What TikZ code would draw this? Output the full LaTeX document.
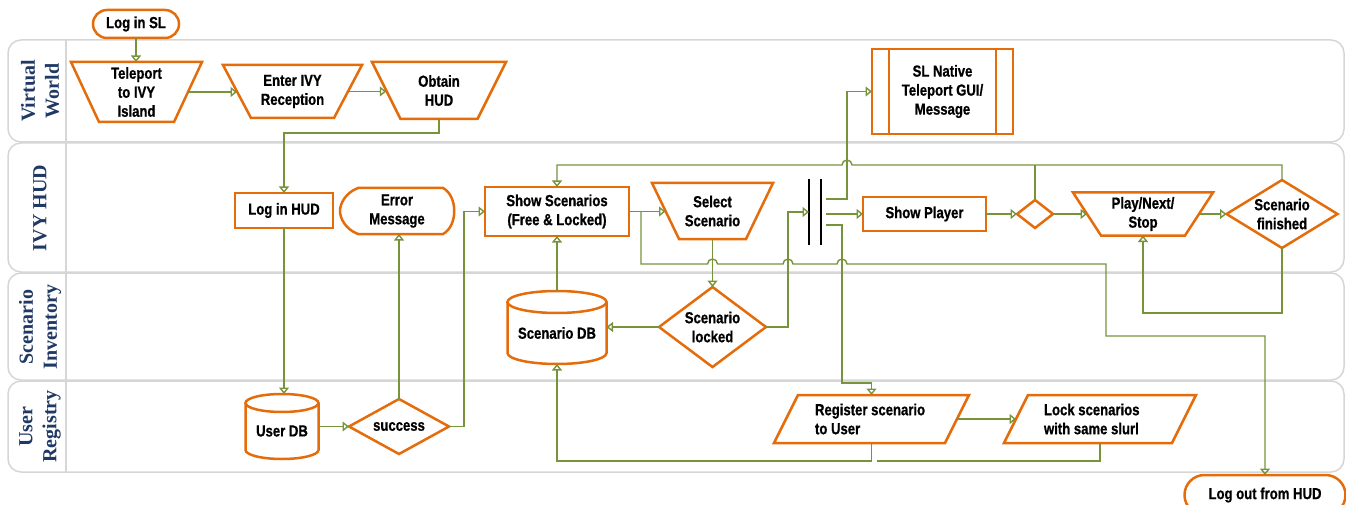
\documentclass[tikz,border=0pt]{standalone}
\usepackage{fontspec}
\setmainfont{Liberation Sans}[FakeStretch=0.82, FakeBold=0.8]
\newfontfamily\lanefont{Liberation Serif}
\usetikzlibrary{arrows.meta,calc}
\definecolor{ora}{HTML}{E46C0A}
\definecolor{grn}{HTML}{77933C}
\definecolor{lanegray}{HTML}{D6D6D6}
\definecolor{navy}{HTML}{1F3864}
\tikzset{
  txt/.style={font=\bfseries\fontsize{16}{19}\selectfont, align=center, inner sep=0pt, outer sep=0pt},
  ob/.style={draw=ora, line width=2.5pt, line join=miter},
  obox/.style={txt, ob},
  conn/.style={draw=grn, line width=1.4pt},
  flow/.style={conn, -{Triangle[open, length=6.5pt, width=10pt]}},
  lane/.style={draw=lanegray, line width=1.5pt, rounded corners=13pt},
  lanelabel/.style={font=\lanefont\bfseries\fontsize{20}{24}\selectfont, text=navy, rotate=90, align=center, inner sep=0pt},
  forkbar/.style={draw=black, line width=1.3pt},
}
% name, cx, cy, half top, half bottom, half height, mid width, height, text
\newcommand{\mantrap}[9]{%
  \node[txt, minimum width=#7pt, minimum height=#8pt] (#1) at (#2,#3) {#9};
  \draw[ob] (#2-#4,#3-#6) -- (#2+#4,#3-#6) -- (#2+#5,#3+#6) -- (#2-#5,#3+#6) -- cycle;}
% name, cx, cy, w, h, text
\newcommand{\decis}[6]{%
  \node[txt, minimum width=#4pt, minimum height=#5pt] (#1) at (#2,#3) {#6};
  \draw[ob] (#1.north) -- (#1.east) -- (#1.south) -- (#1.west) -- cycle;}
% name, cx, cy, w, h, half w, ry, text
\newcommand{\dbnode}[8]{%
  \node[minimum width=#4pt, minimum height=#5pt, inner sep=0pt, outer sep=0pt] (#1) at (#2,#3) {};
  \draw[ob] (#2-#6,#3-#5/2+#7) -- (#2-#6,#3+#5/2-#7)
     arc[start angle=180, end angle=360, x radius=#6pt, y radius=#7pt]
     -- (#2+#6,#3-#5/2+#7);
  \draw[ob] (#2,#3-#5/2+#7) ellipse[x radius=#6pt, y radius=#7pt];
  \node[txt] at ($(#1.center)+(0,#7/2)$) {#8};}
% name, cx, cy, half mid width, slant half, half height, mid width, indent, text
\newcommand{\iobox}[9]{%
  \node[minimum width=#7pt, minimum height={2*#6pt}, inner sep=0pt, outer sep=0pt] (#1) at (#2,#3) {};
  \draw[ob] (#2-#4+#5,#3-#6) -- (#2+#4+#5,#3-#6) -- (#2+#4-#5,#3+#6) -- (#2-#4-#5,#3+#6) -- cycle;
  \node[txt, align=left, anchor=west] at ($(#1.west)+(#8,0)$) {#9};}

\begin{document}
\begin{tikzpicture}[x=1pt, y=-1pt]
\useasboundingbox (0,0) rectangle (1346,505);

% swimlanes
\draw[lane] (8,40) rectangle (1344,142);
\draw[lane] (8,143) rectangle (1344,272);
\draw[lane] (8,273) rectangle (1344,380);
\draw[lane] (8,381) rectangle (1344,472);
\draw[lane, rounded corners=0pt] (66,40) -- (66,472);
\node[lanelabel] (lvw) at (40,91) {Virtual\\World};
\node[lanelabel] (lhud) at (40,208) {IVY HUD};
\node[lanelabel] (linv) at (40,327) {Scenario\\Inventory};
\node[lanelabel] (lreg) at (40,426.5) {User\\Registry};

% nodes
\node[obox, rounded corners=14pt, minimum width=86pt, minimum height=28pt] (login) at (136,24) {Log in SL};
\mantrap{tel}{136.5}{92}{65.5}{37.5}{30}{103}{60}{Teleport\\to IVY\\Island}
\mantrap{enter}{292.5}{91.5}{69.5}{41.5}{26.5}{111}{53}{Enter IVY\\Reception}
\mantrap{obtain}{439}{90.5}{67}{38.5}{28.5}{105.5}{57}{Obtain\\HUD}
\node[obox, minimum width=141pt, minimum height=85pt] (sln) at (942.5,91.5) {SL Native\\Teleport GUI/\\Message};
\draw[ob] ([xshift=17pt]sln.north west) -- ([xshift=17pt]sln.south west);
\draw[ob] ([xshift=-17pt]sln.north east) -- ([xshift=-17pt]sln.south east);

\node[obox, minimum width=98pt, minimum height=35pt] (loghud) at (284,210.5) {Log in HUD};
\node[txt, minimum width=114pt, minimum height=46pt] (err) at (397,211) {Error\\Message};
\draw[ob] (358,188) -- (443,188) .. controls (458,196) and (458,226) .. (443,234) -- (358,234)
  .. controls (345,229) and (340,218) .. (340,211) .. controls (340,204) and (345,193) .. (358,188) -- cycle;
\node[obox, minimum width=144pt, minimum height=49pt] (showsc) at (557,211.5) {Show Scenarios\\(Free \& Locked)};
\mantrap{select}{712.5}{211}{60.5}{33.5}{28}{94}{56}{Select\\Scenario}
\node[minimum width=12pt, minimum height=66pt, inner sep=0pt, outer sep=0pt] (fork) at (815,212) {};
\draw[forkbar] (fork.north west) -- (fork.south west);
\draw[forkbar] (fork.north east) -- (fork.south east);
\node[obox, minimum width=123pt, minimum height=34pt] (showpl) at (924.5,214) {Show Player};
\decis{sdia}{1035}{214}{36}{28}{}
\mantrap{play}{1143}{214}{70}{42}{21.5}{112}{43}{Play/Next/\\Stop}
\decis{fin}{1282}{214}{111}{68}{Scenario\\finished}

\dbnode{scdb}{557}{327.5}{99}{73}{49.5}{11}{Scenario DB}
\decis{sclock}{712.5}{327}{107}{80}{Scenario\\locked}

\dbnode{userdb}{282}{426.5}{73}{65}{36.5}{9}{User DB}
\decis{success}{399}{426.5}{100}{55}{success}
\iobox{reg}{871.5}{419}{85.5}{12}{24}{171}{29}{Register scenario\\to User}
\iobox{lockn}{1100}{419}{84}{12}{24}{168}{28}{Lock scenarios\\with same slurl}

\node[obox, rounded corners=20pt, minimum width=161pt, minimum height=40pt] (logout) at (1265,495) {Log out from HUD};

% routing coordinates
\coordinate (hy) at (0,264);
\coordinate (ly) at (0,165);
\coordinate (cA) at ($(sclock.east)+(22,0)$);
\coordinate (cB) at ($(fork.east)+(26,-13)$);
\coordinate (cC) at ($(fork.east)+(21,13)$);
\coordinate (cD) at (1106,336);
\coordinate (bendR) at ($(reg.north)+(0,-12)$);

% connectors
\draw[flow] (login.south) -- (login.south |- tel.north);
\draw[flow] (tel.east) -- (tel.east -| enter.west);
\draw[flow] (enter.east) -- (enter.east -| obtain.west);
\draw[flow] (obtain.south) -- ++(0,14) -| (loghud.north);
\draw[flow] (loghud.south) -- (loghud.south |- userdb.north);
\draw[flow] (userdb.east) -- (success.west);
\draw[flow] (success.north) -- (success.north |- err.south);
\draw[flow] (success.east) -- ++(15,0) |- (showsc.west);
\draw[flow] (showsc.east) -- (showsc.east -| select.west);
\draw[flow] (select.south) -- (select.south |- sclock.north);
\draw[flow] (sclock.west) -- (sclock.west -| scdb.east);
\draw[flow] (scdb.north) -- (showsc.south);
\draw[flow] (sclock.east) -- (cA) |- (fork.west);
\draw[flow] ($(fork.east)+(5,-13)$) -- (cB) |- (sln.west);
\draw[flow] ($(fork.east)+(5,2)$) -- (showpl.west);
\draw[flow] ($(fork.east)+(5,13)$) -- (cC) |- (bendR) -- (reg.north);
\draw[flow] (showpl.east) -- (sdia.west);
\draw[flow] (sdia.east) -- (play.west);
\draw[flow] (play.east) -- (fin.west);
\draw[flow] (fin.south) -- ++(0,65) -| (play.south);
\draw[flow] (fin.north) |- ($(cB |- ly)+(5,0)$) arc[start angle=0, end angle=180, radius=5pt] -| (showsc.north);
\draw[conn] (sdia.north) -- (sdia.north |- ly);
\draw[flow] ($(showsc.east)+(12,0)$) |- ($(select.south |- hy)+(-5,0)$)
   arc[start angle=180, end angle=0, radius=5pt] -- ($(cA |- hy)+(-5,0)$)
   arc[start angle=180, end angle=0, radius=5pt] -- ($(cC |- hy)+(-5,0)$)
   arc[start angle=180, end angle=0, radius=5pt] -- (cD |- hy) -- (cD) -| (logout.north);
\draw[flow] (reg.east) -- (lockn.west);
\draw[flow] (reg.south) -- ++(0,18) -| (scdb.south);
\draw[conn] (lockn.south) |- ($(reg.south)+(5,18)$);
\end{tikzpicture}
\end{document}
